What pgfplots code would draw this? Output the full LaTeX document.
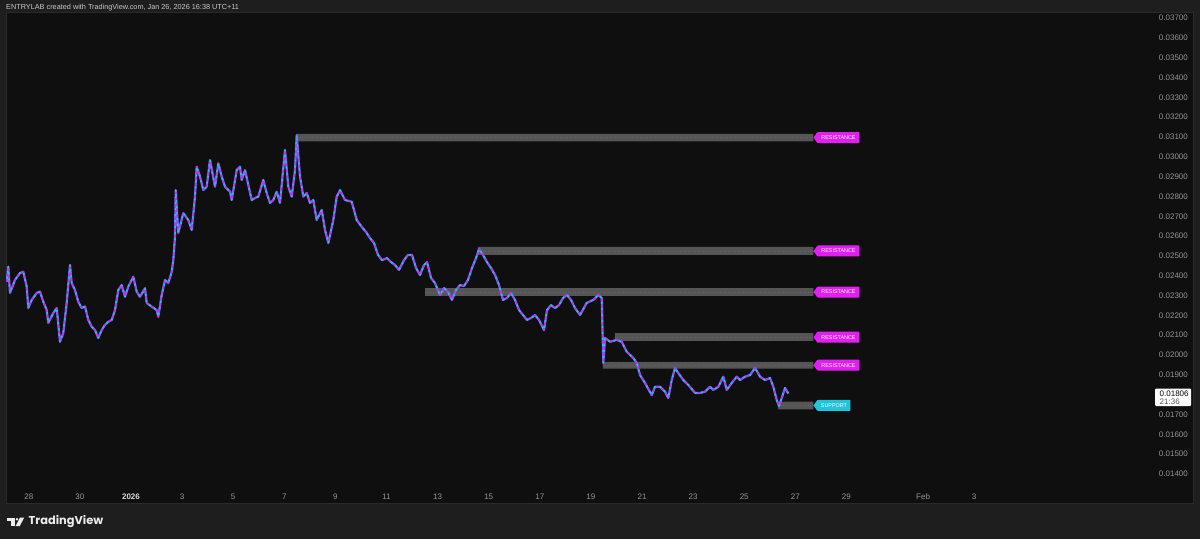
\documentclass[border=0pt]{standalone}
\usepackage{fontspec}
\setmainfont{Liberation Sans}
\newfontfamily\logofont{Poppins}
\usepackage{pgfplots}
\usepackage{pgfplotstable}
\pgfplotsset{compat=1.18}
\definecolor{bgout}{HTML}{1E1E1E}
\definecolor{bgin}{HTML}{0F0F0F}
\definecolor{frame}{HTML}{2A2A2A}
\definecolor{ticktxt}{HTML}{959595}
\definecolor{tickbright}{HTML}{D8D8D8}
\definecolor{hdr}{HTML}{C8C8C8}
\definecolor{mag}{HTML}{E020F0}
\definecolor{cyn}{HTML}{20C4DC}
\definecolor{vio}{HTML}{6E66F0}
\definecolor{zone}{HTML}{555555}
\definecolor{zonemid}{HTML}{6A5F6A}
\definecolor{logo}{HTML}{EDEDED}

\pgfplotstableread{
t p
-4.865 0.02370
-4.802 0.02446
-4.736 0.02313
-4.540 0.02379
-4.344 0.02414
-4.215 0.02420
-4.082 0.02345
-4.020 0.02237
-3.887 0.02278
-3.691 0.02313
-3.562 0.02320
-3.432 0.02269
-3.299 0.02227
-3.237 0.02162
-3.041 0.02212
-2.908 0.02237
-2.779 0.02067
-2.650 0.02111
-2.517 0.02263
-2.387 0.02454
-2.321 0.02363
-2.192 0.02328
-2.063 0.02269
-1.930 0.02237
-1.800 0.02245
-1.671 0.02177
-1.538 0.02143
-1.409 0.02126
-1.280 0.02086
-1.147 0.02126
-1.018 0.02152
-0.888 0.02168
-0.755 0.02177
-0.626 0.02227
-0.497 0.02328
-0.364 0.02353
-0.235 0.02294
-0.106 0.02345
0.090 0.02395
0.223 0.02320
0.352 0.02294
0.548 0.02337
0.614 0.02263
0.810 0.02244
1.006 0.02227
1.068 0.02193
1.202 0.02303
1.331 0.02379
1.460 0.02363
1.593 0.02420
1.656 0.02479
1.722 0.02597
1.750 0.02832
1.851 0.02616
2.047 0.02716
2.243 0.02681
2.376 0.02631
2.505 0.02799
2.571 0.02950
2.701 0.02900
2.830 0.02832
2.963 0.02849
3.092 0.02984
3.288 0.02849
3.417 0.02967
3.550 0.02900
3.679 0.02849
3.875 0.02824
3.941 0.02782
4.137 0.02933
4.266 0.02950
4.333 0.02883
4.462 0.02933
4.591 0.02858
4.724 0.02782
4.853 0.02792
4.982 0.02799
5.178 0.02883
5.311 0.02817
5.440 0.02767
5.570 0.02782
5.703 0.02824
5.832 0.02767
6.027 0.03034
6.157 0.02849
6.290 0.02799
6.419 0.02933
6.485 0.03110
6.614 0.02900
6.744 0.02799
6.877 0.02817
7.006 0.02767
7.135 0.02782
7.268 0.02681
7.464 0.02732
7.593 0.02631
7.722 0.02565
7.918 0.02681
8.051 0.02799
8.180 0.02832
8.376 0.02782
8.638 0.02773
8.834 0.02681
9.029 0.02647
9.225 0.02616
9.354 0.02590
9.511 0.02565
9.667 0.02505
9.824 0.02479
10.020 0.02489
10.176 0.02469
10.333 0.02454
10.489 0.02429
10.685 0.02479
10.842 0.02505
10.998 0.02505
11.155 0.02439
11.311 0.02404
11.468 0.02454
11.585 0.02469
11.742 0.02389
11.898 0.02363
12.094 0.02303
12.251 0.02338
12.407 0.02318
12.564 0.02278
12.720 0.02328
12.877 0.02353
13.033 0.02348
13.190 0.02379
13.346 0.02439
13.503 0.02489
13.620 0.02535
13.777 0.02505
13.933 0.02469
14.090 0.02439
14.247 0.02404
14.403 0.02353
14.560 0.02278
14.716 0.02288
14.873 0.02313
15.029 0.02278
15.186 0.02227
15.342 0.02202
15.499 0.02177
15.656 0.02187
15.812 0.02202
15.969 0.02177
16.164 0.02126
16.282 0.02227
16.438 0.02252
16.595 0.02237
16.751 0.02252
16.908 0.02288
17.065 0.02303
17.221 0.02278
17.378 0.02237
17.573 0.02202
17.836 0.02263
18.094 0.02278
18.290 0.02303
18.423 0.02288
18.485 0.01960
18.552 0.02086
18.748 0.02067
19.010 0.02076
19.205 0.02067
19.401 0.02017
19.660 0.01985
19.793 0.01960
19.922 0.01899
20.117 0.01859
20.380 0.01798
20.509 0.01840
20.705 0.01840
20.900 0.01815
21.030 0.01783
21.163 0.01874
21.292 0.01935
21.421 0.01909
21.616 0.01874
21.812 0.01849
22.074 0.01809
22.270 0.01809
22.466 0.01815
22.661 0.01840
22.791 0.01824
22.986 0.01840
23.182 0.01891
23.315 0.01824
23.511 0.01859
23.706 0.01891
23.836 0.01874
24.031 0.01891
24.227 0.01899
24.423 0.01935
24.618 0.01891
24.814 0.01874
25.010 0.01884
25.139 0.01840
25.272 0.01773
25.362 0.01743
25.468 0.01783
25.597 0.01834
25.726 0.01806
}\series

\newcommand{\zone}[3]{% start, low, high
  \addplot[fill=zone, draw=none, forget plot] coordinates {(#1,#2) (26.71,#2) (26.71,#3) (#1,#3) (#1,#2)};
}
\newcommand{\zonemidline}[2]{% start, mid
  \addplot[zonemid, line width=0.4pt, dash pattern=on 1pt off 1.5pt, forget plot] coordinates {(#1,#2) (26.71,#2)};
}
\newcommand{\zonetag}[4]{% center price, colour, width, text
  \fill[#2, rounded corners=0.8pt] (axis cs:26.71,#1) -- ++(4pt,5.5pt) -- ++(#3pt,0pt) -- ++(0pt,-11pt) -- ++(-#3pt,0pt) -- cycle;
  \node[text=white, inner sep=0pt, font=\fontsize{5.4}{6}\selectfont] at ([xshift=4pt+0.5*#3pt]axis cs:26.71,#1) {#4};
}

\begin{document}
\begin{tikzpicture}
\fill[bgout] (0pt,0pt) rectangle (1200pt,-539pt);
\begin{axis}[
  at={(6pt,-503pt)}, anchor=south west,
  scale only axis, width=1187pt, height=491pt,
  xmin=-4.892, xmax=41.566, ymin=0.012537, ymax=0.037303,
  axis background/.style={fill=bgin},
  axis line style={draw=frame, line width=1pt},
  major tick length=0pt,
  xtick={-4,-2,0,2,4,6,8,10,12,14,16,18,20,22,24,26,28,31,33},
  xticklabels={28,30,{\textcolor{tickbright}{\bfseries 2026}},3,5,7,9,11,13,15,17,19,21,23,25,27,29,Feb,3},
  x tick label style={text=ticktxt, font=\fontsize{8}{9}\selectfont, anchor=base, yshift=4pt, inner sep=0pt},
  ytick={0.014,0.015,0.016,0.017,0.018,0.019,0.020,0.021,0.022,0.023,0.024,0.025,0.026,0.027,0.028,0.029,0.030,0.031,0.032,0.033,0.034,0.035,0.036,0.037},
  yticklabels={0.01400,0.01500,0.01600,0.01700,0.01800,0.01900,0.02000,0.02100,0.02200,0.02300,0.02400,0.02500,0.02600,0.02700,0.02800,0.02900,0.03000,0.03100,0.03200,0.03300,0.03400,0.03500,0.03600,0.03700},
  yticklabel pos=right,
  y tick label style={text=ticktxt, font=\fontsize{8}{9}\selectfont, anchor=east, xshift=-5pt, inner sep=0pt},
  scaled y ticks=false,
  clip=true,
]
\zone{6.497}{0.03078}{0.03115}
\zone{13.58}{0.02505}{0.02545}
\zone{11.51}{0.02299}{0.02337}
\zone{18.94}{0.02071}{0.02110}
\zone{18.47}{0.01931}{0.01966}
\zone{25.32}{0.01726}{0.01765}
\zonemidline{6.497}{0.03097}
\zonemidline{13.58}{0.02525}
\zonemidline{11.51}{0.02318}
\zonemidline{18.94}{0.02090}
\zonemidline{18.47}{0.01949}
\zonemidline{25.32}{0.01746}

\addplot[vio, line width=2.2pt, line join=round, no markers] table[x=t,y=p]{\series};
\addplot[mag, line width=1.5pt, line join=round, no markers, dash pattern=on 2pt off 4pt] table[x=t,y=p]{\series};
\addplot[cyn, line width=1.5pt, line join=round, no markers, dash pattern=on 2pt off 4pt, dash phase=3pt] table[x=t,y=p]{\series};

\zonetag{0.03097}{mag}{42}{RESISTANCE}
\zonetag{0.02525}{mag}{42}{RESISTANCE}
\zonetag{0.02318}{mag}{42}{RESISTANCE}
\zonetag{0.02090}{mag}{42}{RESISTANCE}
\zonetag{0.01949}{mag}{42}{RESISTANCE}
\zonetag{0.01746}{cyn}{33}{SUPPORT}
\end{axis}
\node[anchor=west, inner sep=0pt, text=hdr, font=\fontsize{7.3}{9}\selectfont] at (6pt,-8pt) {ENTRYLAB created with TradingView.com, Jan 26, 2026 16:38 UTC+11};
% current price box
\fill[white, rounded corners=1pt] (1155pt,-388.5pt) rectangle (1191pt,-406pt);
\node[anchor=west, inner sep=0pt, text=black, font=\fontsize{8}{9}\selectfont] at (1159.5pt,-393.5pt) {0.01806};
\node[anchor=west, inner sep=0pt, text=black!65, font=\fontsize{8}{9}\selectfont] at (1159.5pt,-401.5pt) {21:36};
% TradingView logo
\fill[logo] (7pt,-517.5pt) rectangle (14.5pt,-520.5pt);
\fill[logo] (11.2pt,-517.5pt) rectangle (14.5pt,-526pt);
\fill[logo] (17pt,-519.2pt) circle (1.4pt);
\fill[logo] (20pt,-517.5pt) -- (24.2pt,-517.5pt) -- (19.8pt,-526pt) -- (15.6pt,-526pt) -- cycle;
\node[anchor=west, inner sep=0pt, text=logo, font=\logofont\bfseries\fontsize{11.4}{13}\selectfont] at (28.5pt,-521pt) {TradingView};
\pgfresetboundingbox
\path[use as bounding box] (0pt,0pt) rectangle (1200pt,-539pt);
\end{tikzpicture}
\end{document}
